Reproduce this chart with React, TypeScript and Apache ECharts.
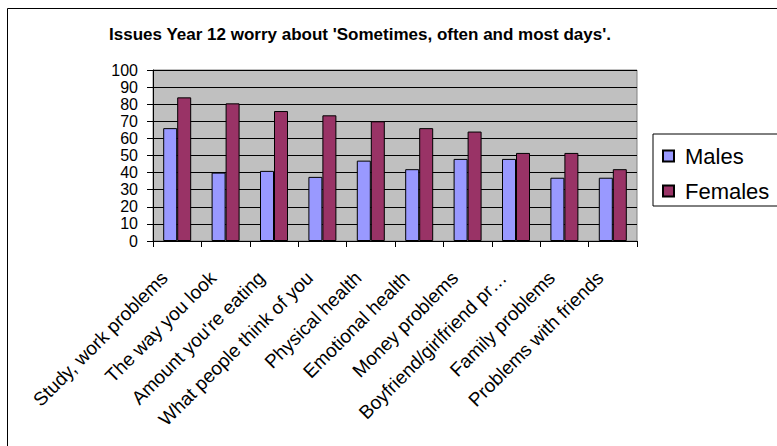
import React, { useEffect, useRef } from "react";
import * as echarts from "echarts";

const titleText = "Issues Year 12 worry about 'Sometimes, often and most days'.";

const categories = [
  "Study, work problems",
  "The way you look",
  "Amount you're eating",
  "What people think of you",
  "Physical health",
  "Emotional health",
  "Money problems",
  "Boyfriend/girlfriend pr…",
  "Family problems",
  "Problems with friends",
];

const males = [66, 40, 41, 37.5, 47, 42, 48, 48, 37, 37];
const females = [84, 80.5, 76, 73.5, 70, 66, 64, 51.5, 51.5, 42];

const yTicks = [0, 10, 20, 30, 40, 50, 60, 70, 80, 90, 100];

const FONT = "'Liberation Sans', Arial, sans-serif";

export default function App() {
  const ref = useRef<HTMLDivElement>(null);

  useEffect(() => {
    if (!ref.current) return;
    const chart = echarts.init(ref.current, undefined, { renderer: "svg" });
    chart.setOption({
      animation: false,
      backgroundColor: "#ffffff",
      title: {
        text: titleText,
        left: 360,
        top: 26,
        padding: 0,
        textAlign: "center",
        textStyle: {
          fontFamily: FONT,
          fontSize: 17,
          lineHeight: 17,
          fontWeight: "bold",
          color: "#000",
        },
      },
      legend: {
        orient: "vertical",
        left: 653,
        top: 134,
        padding: [10, 14, 3, 9],
        itemWidth: 11,
        itemHeight: 11,
        itemGap: 11,
        icon: "rect",
        borderColor: "#000",
        borderWidth: 1,
        borderRadius: 0,
        backgroundColor: "#fff",
        textStyle: {
          fontFamily: FONT,
          fontSize: 22,
          lineHeight: 24,
          color: "#000",
          padding: [0, 0, 0, 6],
        },
        data: ["Males", "Females"],
      },
      graphic: [
        {
          type: "rect",
          shape: { x: 7.5, y: 8.5, width: 820, height: 500 },
          style: { fill: "none", stroke: "#000", lineWidth: 1 },
          z: 100,
          silent: true,
        },
      ],
      grid: {
        left: 153,
        top: 70,
        width: 484,
        height: 171,
        show: true,
        backgroundColor: "#C0C0C0",
        borderColor: "#808080",
        borderWidth: 1,
      },
      xAxis: {
        type: "category",
        data: categories,
        axisLine: { show: true, lineStyle: { color: "#000", width: 1 } },
        axisTick: {
          show: true,
          alignWithLabel: false,
          length: 6,
          lineStyle: { color: "#000" },
        },
        axisLabel: {
          interval: 0,
          rotate: 45,
          margin: 21,
          padding: [0, 18, 0, 0],
          fontFamily: FONT,
          fontSize: 19,
          color: "#000",
        },
        splitLine: { show: false },
      },
      yAxis: {
        type: "value",
        min: yTicks[0],
        max: yTicks[yTicks.length - 1],
        interval: 10,
        axisLine: { show: true, lineStyle: { color: "#000", width: 1 } },
        axisTick: { show: true, length: 6, lineStyle: { color: "#000" } },
        axisLabel: {
          margin: 15,
          showMinLabel: true,
          showMaxLabel: true,
          hideOverlap: false,
          fontFamily: FONT,
          fontSize: 16,
          lineHeight: 16,
          color: "#000",
        },
        splitLine: { show: true, lineStyle: { color: "#000", width: 1 } },
      },
      series: [
        {
          name: "Males",
          type: "bar",
          data: males,
          barWidth: 14,
          barGap: "0%",
          itemStyle: { color: "#9999FF", borderColor: "#000", borderWidth: 1 },
        },
        {
          name: "Females",
          type: "bar",
          data: females,
          barWidth: 14,
          barGap: "0%",
          itemStyle: { color: "#993366", borderColor: "#000", borderWidth: 1 },
        },
      ],
    });
    return () => chart.dispose();
  }, []);

  return (
    <div
      ref={ref}
      style={{ position: "absolute", left: 0, top: 0, width: 777, height: 446 }}
    />
  );
}
